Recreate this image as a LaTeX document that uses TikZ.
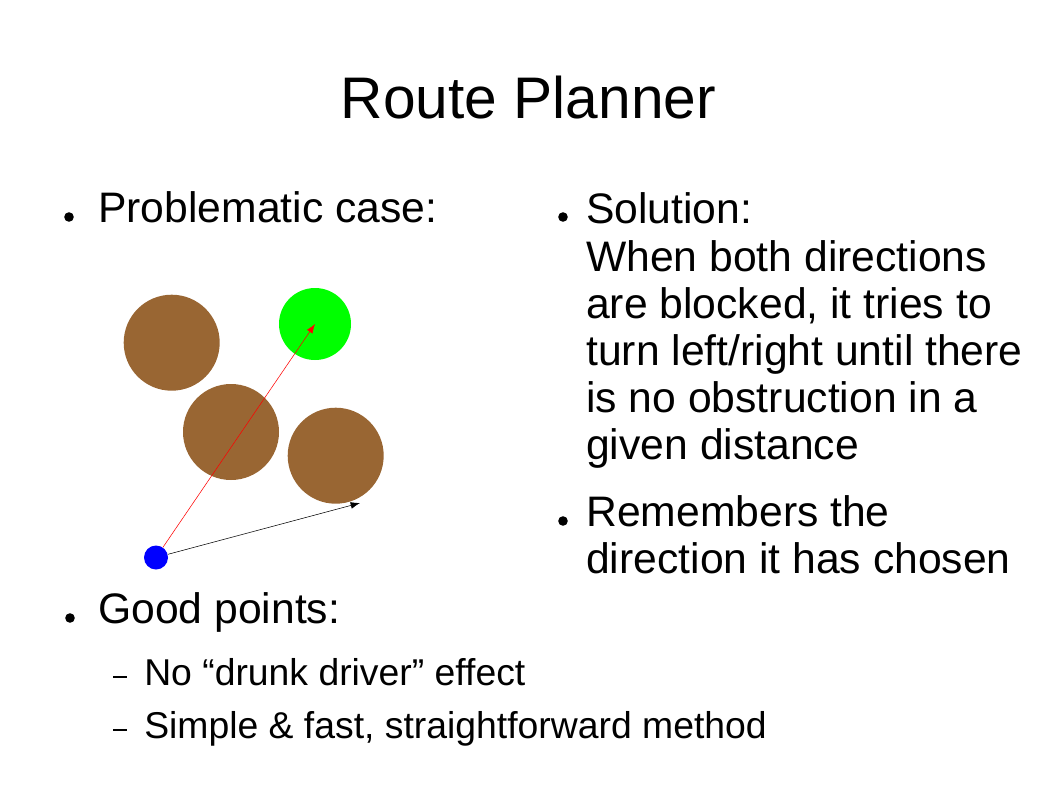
\documentclass[tikz,border=0pt]{standalone}
\usepackage{fontspec}
\setmainfont{Liberation Sans}
\usetikzlibrary{arrows.meta}
\definecolor{rock}{HTML}{996633}
\tikzset{
  rock/.style={circle,fill=rock,inner sep=0pt,minimum size=72pt},
  dot/.style={circle,fill=black,inner sep=0pt,minimum size=7.2pt},
  body/.style={anchor=base west,inner sep=0pt,font=\fontsize{32}{35.3}\selectfont},
  subbody/.style={anchor=base west,inner sep=0pt,font=\fontsize{28}{33}\selectfont},
}
\begin{document}
\begin{tikzpicture}[x=0.75pt,y=-0.75pt]
  \useasboundingbox (0,0) rectangle (1058,793);
  \node[anchor=base,inner sep=0pt,font=\fontsize{44}{50}\selectfont] (title) at (528.5,118) {Route Planner};
  % left column
  \node[dot] (b1) at (69,217) {};
  \node[body] (problem) at (98,222) {Problematic case:};
  \node[dot] (b3) at (70,618) {};
  \node[body] (good) at (98,623) {Good points:};
  \foreach \y/\txt [count=\i] in {685/{No “drunk driver” effect},738/{Simple \& fast, straightforward method}} {
    \node[subbody] (sub\i) at (144,\y) {\txt};
    \draw[line width=0.8pt] (113,\y-8) -- (127,\y-8);
  }
  % right column
  \node[dot] (b2) at (563,217) {};
  \foreach \y/\txt [count=\i] in {223/Solution:,271/When both directions,318/{are blocked, it tries to},365/{turn left/right until there},412/is no obstruction in a,459/given distance}
    \node[body] (sol\i) at (586,\y) {\txt};
  \node[dot] (b4) at (563,521) {};
  \node[body] (rem1) at (586,526) {Remembers the};
  \node[body] (rem2) at (586,573) {direction it has chosen};
  % obstacles
  \node[rock] (r1) at (171.7,342.7) {};
  \node[rock] (r2) at (231,432) {};
  \node[rock] (r3) at (335.7,455.7) {};
  \node[circle,fill={rgb,255:red,0;green,255;blue,0},inner sep=0pt,minimum size=54pt] (goal) at (315,324) {};
  \node[circle,fill=blue,inner sep=0pt,minimum size=18pt] (car) at (156,557.5) {};
  \coordinate (probe) at (360,503);
  \draw[red,-{Latex[length=7pt,width=5pt]}] (car) -- (goal.center);
  \draw[black,-{Latex[length=7pt,width=5pt]}] (car) -- (probe);
\end{tikzpicture}
\end{document}
